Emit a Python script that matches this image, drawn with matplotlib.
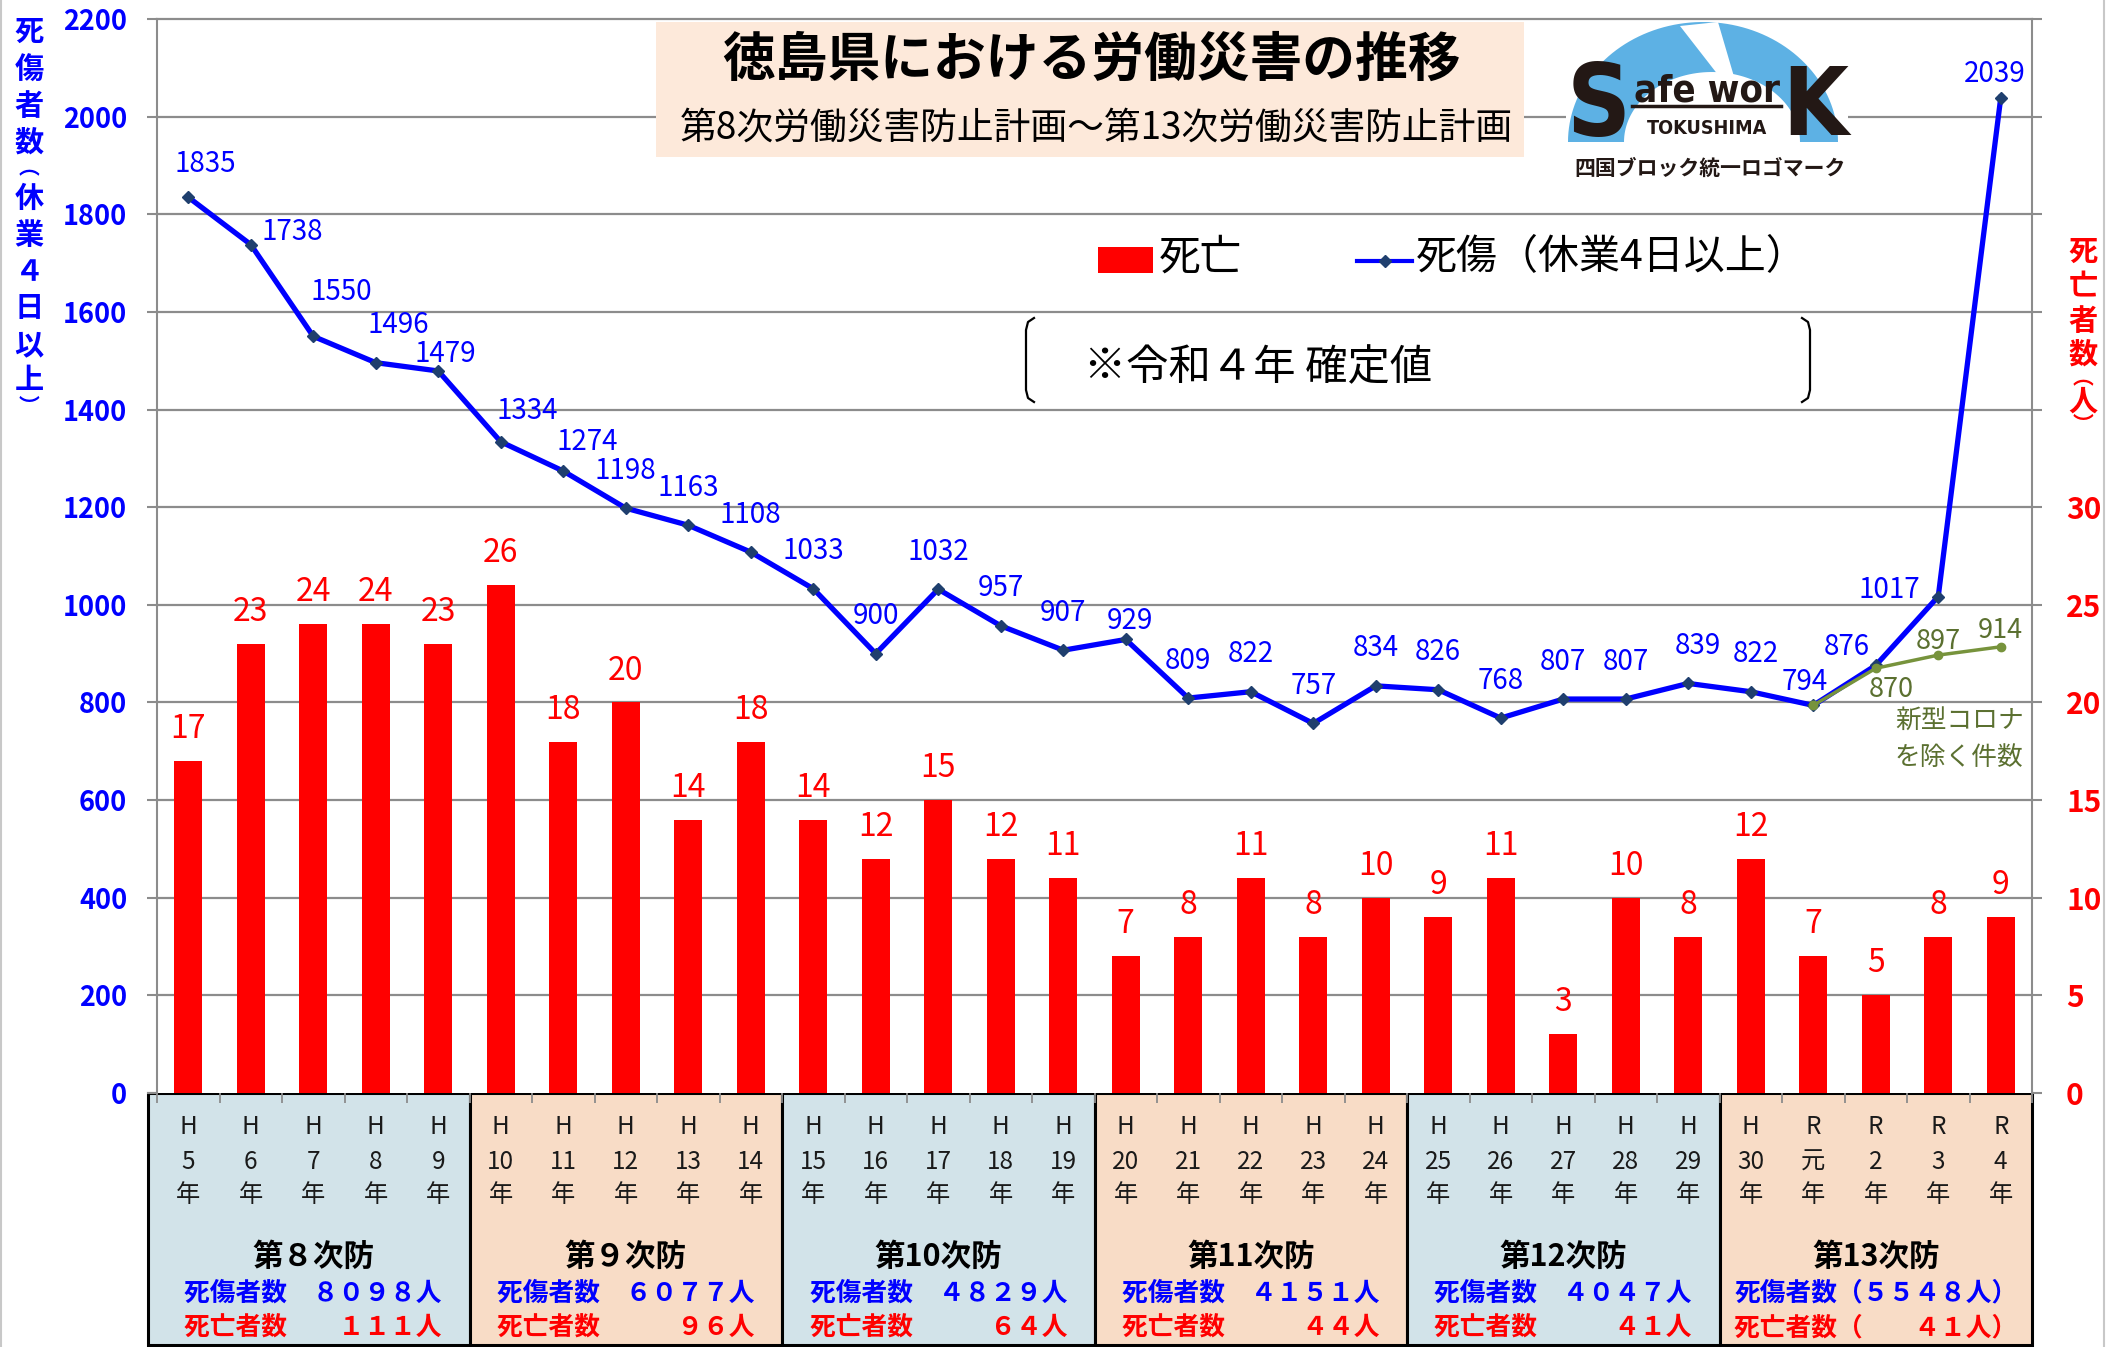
import numpy as np
import matplotlib
matplotlib.use('Agg')
import matplotlib.pyplot as plt
from matplotlib.patches import Rectangle, Polygon
from matplotlib.lines import Line2D
from matplotlib import font_manager
from matplotlib.font_manager import FontProperties

plt.rcParams['font.family'] = ['Noto Sans CJK JP', 'DejaVu Sans']

# ---- data ----
era = ['H'] * 26 + ['R'] * 4
year_no = [str(n) for n in range(5, 31)] + ['元', '2', '3', '4']
deaths = [17, 23, 24, 24, 23, 26, 18, 20, 14, 18, 14, 12, 15, 12, 11,
          7, 8, 11, 8, 10, 9, 11, 3, 10, 8, 12, 7, 5, 8, 9]
casualties = [1835, 1738, 1550, 1496, 1479, 1334, 1274, 1198, 1163, 1108,
              1033, 900, 1032, 957, 907, 929, 809, 822, 757, 834,
              826, 768, 807, 807, 839, 822, 794, 876, 1017, 2039]
covid_idx = [26, 27, 28, 29]
covid_excl = [794, 870, 897, 914]
plans = ['第８次防', '第９次防', '第10次防', '第11次防', '第12次防', '第13次防']
plan_casualties = ['死傷者数　８０９８人', '死傷者数　６０７７人', '死傷者数　４８２９人',
                   '死傷者数　４１５１人', '死傷者数　４０４７人', '死傷者数（５５４８人）']
plan_deaths = ['死亡者数　　１１１人', '死亡者数　　　９６人', '死亡者数　　　６４人',
               '死亡者数　　　４４人', '死亡者数　　　４１人', '死亡者数（　　４１人）']

# label offsets (points) for the casualty labels, as placed in the original
lab_off = ([(12, 24), (30, 9), (20, 32), (16, 27), (5, 12), (19, 22), (17, 21)]
           + [(0, 27)] * 8 + [(3, 13)] + [(0, 27)] * 8
           + [(7, 27), (4, 27), (-6, 17), (-21, 13), (-35, 5), (-4, 17)])
covid_off = [None, (11, -15), (0, 10), (0, 12)]

BLUE = '#0000FF'
RED = '#FF0000'
GRID = '#8C8C8C'
OLIVE = '#77933C'
OLIVE_TXT = '#5B7030'
MARK = '#1F3F6E'
INK = '#231815'

W, H = 2107, 1347
fig = plt.figure(figsize=(W / 100, H / 100), dpi=100)
fig.patch.set_facecolor('white')


def fx(px):
    return px / W


def fy(py):
    return 1 - py / H


L, R, T, B = 157, 2032, 19, 1093
TB = 1345
ax = fig.add_axes([fx(L), fy(B), fx(R) - fx(L), fy(T) - fy(B)])
ax2 = ax.twinx()
axt = fig.add_axes([fx(L), fy(TB), fx(R) - fx(L), fy(B) - fy(TB)])
axt.set_zorder(0)
ax.set_zorder(1)
ax2.set_zorder(2)

x = np.arange(len(deaths))

# bars (right axis)
ax.set_xlim(-0.5, 29.5)
ax.set_ylim(0, 55)
for v in range(5, 56, 5):
    ax.axhline(v, color=GRID, lw=1.6, zorder=0, clip_on=False)
ax.bar(x, deaths, width=0.445, color=RED, zorder=2)
for xi, v in zip(x, deaths):
    ax.annotate(str(v), (xi, v), xytext=(0, 23), textcoords='offset points',
                ha='center', va='center', color=RED, fontsize=23)
ax.set_yticks(range(0, 56, 5))
ax.set_yticklabels([str(v) if v <= 30 else '' for v in range(0, 56, 5)],
                   fontweight='bold')
ax.yaxis.tick_right()
ax.tick_params(axis='y', colors=GRID, length=7.5, width=1.5,
               labelcolor=RED, labelsize=21.5, pad=17)
ax.set_xticks(np.arange(-0.5, 30, 1))
ax.tick_params(axis='x', length=7, width=1.3, colors=GRID, labelbottom=False)
for s in ['top', 'bottom']:
    ax.spines[s].set_visible(False)
for s in ['left', 'right']:
    ax.spines[s].set_color(GRID)
    ax.spines[s].set_linewidth(1.5)

# lines (left axis)
ax2.set_ylim(0, 2200)
ax2.plot(x, casualties, color=BLUE, lw=3.8, marker='D', ms=6.5,
         mfc=MARK, mec=MARK, zorder=3)
ax2.plot(covid_idx, covid_excl, color=OLIVE, lw=2.5, marker='o', ms=6,
         mfc=OLIVE, mec=OLIVE, zorder=4)
for xi, v, off in zip(x, casualties, lab_off):
    ax2.annotate(str(v), (xi, v), xytext=off, textcoords='offset points',
                 ha='center', va='center', color=BLUE, fontsize=20)
for xi, v, off in zip(covid_idx, covid_excl, covid_off):
    if off is None:
        continue
    ax2.annotate(str(v), (xi, v), xytext=off, textcoords='offset points',
                 ha='center', va='center', color=OLIVE_TXT, fontsize=19.5)
ax2.set_yticks(range(0, 2201, 200))
ax2.set_yticklabels([str(v) for v in range(0, 2201, 200)], fontweight='bold')
ax2.yaxis.tick_left()
ax2.tick_params(axis='y', colors=GRID, length=7.5, width=1.5,
                labelcolor=BLUE, labelsize=19.5, pad=14)
for s in ax2.spines.values():
    s.set_visible(False)

fig.text(fx(1960), fy(722), '新型コロナ', color=OLIVE_TXT, fontsize=18.5,
         ha='center', va='center')
fig.text(fx(1959), fy(758), 'を除く件数', color=OLIVE_TXT, fontsize=18.5,
         ha='center', va='center')

# vertical axis titles, one character per line
left_chars = ['死', '傷', '者', '数', '︵', '休', '業', '４', '日', '以', '上', '︶']
left_y = [32, 70, 106, 143, 168, 198, 235, 272, 308, 345, 380, 407]
for ch, yy in zip(left_chars, left_y):
    fs = 15 if ch in '︵︶' else 21
    fig.text(fx(29), fy(yy), ch, color=BLUE, fontsize=fs, fontweight='bold',
             ha='center', va='center')
right_chars = ['死', '亡', '者', '数', '︵', '人', '︶']
right_y = [252, 286, 321, 355, 378, 402, 424]
for ch, yy in zip(right_chars, right_y):
    fs = 15 if ch in '︵︶' else 21
    fig.text(fx(2083), fy(yy), ch, color=RED, fontsize=fs, fontweight='bold',
             ha='center', va='center')

# ---- table under the chart ----
axt.set_xlim(-0.5, 29.5)
axt.set_ylim(1, 0)
axt.axis('off')
cell_cols = ['#D2E3E9', '#F8DCC6']
for g in range(6):
    x0 = -0.5 + 5 * g if g > 0 else -0.64
    x1 = 4.5 + 5 * g
    axt.add_patch(Rectangle((x0, 0), x1 - x0, 1, facecolor=cell_cols[g % 2],
                            edgecolor='black', lw=2.2, clip_on=False))
    axt.text(2 + 5 * g, 0.651, plans[g], ha='center', va='center',
             fontsize=22, fontweight='bold', color='black')
    axt.text(2 + 5 * g, 0.794, plan_casualties[g], ha='center', va='center',
             fontsize=18.5, fontweight='bold', color=BLUE)
    axt.text(2 + 5 * g, 0.933, plan_deaths[g], ha='center', va='center',
             fontsize=18.5, fontweight='bold', color=RED)
for xi, e, n in zip(x, era, year_no):
    axt.text(xi, 0.135, e, ha='center', va='center', fontsize=17.5, color='#1A1A1A')
    axt.text(xi, 0.274, n, ha='center', va='center', fontsize=17.5, color='#1A1A1A')
    axt.text(xi, 0.405, '年', ha='center', va='center', fontsize=17.5, color='#1A1A1A')

# ---- title box ----
fig.patches.append(Rectangle((fx(656), fy(157)), fx(1524) - fx(656), fy(22) - fy(157),
                             transform=fig.transFigure, facecolor='#FDE9DA',
                             edgecolor='none', zorder=5))
fig.text(fx(1091), fy(60), '徳島県における労働災害の推移', fontsize=38,
         fontweight='bold', ha='center', va='center', zorder=6)
fig.text(fx(1096), fy(128), '第8次労働災害防止計画～第13次労働災害防止計画',
         fontsize=26.5, ha='center', va='center', zorder=6)

# ---- legend ----
fig.patches.append(Rectangle((fx(1098), fy(273)), fx(1153) - fx(1098), fy(247) - fy(273),
                             transform=fig.transFigure, facecolor=RED,
                             edgecolor='none', zorder=5))
fig.text(fx(1159), fy(258), '死亡', fontsize=30, ha='left', va='center', zorder=6)
fig.add_artist(Line2D([fx(1357), fx(1412)], [fy(261), fy(261)], color=BLUE, lw=3,
                      transform=fig.transFigure, zorder=6))
fig.add_artist(Line2D([fx(1384.5)], [fy(261)], marker='D', ms=6.5, mfc=MARK, mec=MARK,
                      transform=fig.transFigure, zorder=7))
fig.text(fx(1416), fy(258), '死傷（休業4日以上）', fontsize=29.5, ha='left',
         va='center', zorder=6)

# ---- note with bracket pair ----
fig.text(fx(1258), fy(368), '※令和４年 確定値', fontsize=30.5, ha='center',
         va='center', zorder=6)
bx = [1034, 1028, 1026, 1026, 1028, 1034]
by = [318, 322, 330, 390, 398, 402]
fig.add_artist(Line2D([fx(v) for v in bx], [fy(v) for v in by], color='black',
                      lw=1.6, transform=fig.transFigure, zorder=6))
fig.add_artist(Line2D([fx(2836 - v) for v in bx], [fy(v) for v in by], color='black',
                      lw=1.6, transform=fig.transFigure, zorder=6))

# ---- logo ----
# look for a narrow / condensed bold sans face, otherwise use DejaVu Sans bold
cond = [f for f in font_manager.fontManager.ttflist
        if ('Narrow' in f.name or 'Condensed' in f.name
            or f.stretch in ('condensed', 'extra-condensed', 'semi-condensed'))
        and f.weight in (700, 'bold') and 'Serif' not in f.name and 'Mono' not in f.name]
if cond:
    logo_fp = FontProperties(fname=cond[0].fname)
else:
    logo_fp = FontProperties(family='DejaVu Sans', weight='bold')

fig.patches.append(Rectangle((fx(1566), fy(180)), fx(1848) - fx(1566), fy(22) - fy(180),
                             transform=fig.transFigure, facecolor='white',
                             edgecolor='none', zorder=5))
t = np.linspace(0, np.pi, 80)
dome = np.column_stack([fx(1703 + 135 * np.cos(t)), fy(142 - 120 * np.sin(t))])
fig.patches.append(Polygon(dome, closed=True, transform=fig.transFigure,
                           facecolor='#5DB1E4', edgecolor='none', zorder=5.1))
inner = np.column_stack([fx(1712 + 88 * np.cos(t)), fy(142 - 70 * np.sin(t))])
fig.patches.append(Polygon(inner, closed=True, transform=fig.transFigure,
                           facecolor='white', edgecolor='none', zorder=5.15))
stripe = [(fx(1680), fy(26)), (fx(1718), fy(22)), (fx(1735), fy(80)), (fx(1722), fy(80))]
fig.patches.append(Polygon(stripe, closed=True, transform=fig.transFigure,
                           facecolor='white', edgecolor='none', zorder=5.2))
fig.add_artist(Line2D([fx(1632), fx(1781)], [fy(106), fy(106)], color=INK, lw=2.5,
                      transform=fig.transFigure, zorder=5.3))

renderer = fig.canvas.get_renderer()


def logo_text(s, cx, base, w_px, cap_px):
    txt = fig.text(fx(cx), fy(base), s, fontproperties=logo_fp.copy(), color=INK,
                   ha='center', va='baseline', zorder=5.4)
    txt.set_fontsize(100)
    bw = txt.get_window_extent(renderer).width
    txt.set_fontsize(min(100 * w_px / bw, cap_px / 0.73 * 0.72))
    return txt


logo_text('S', 1599, 136, 64, 100)
logo_text('afe wor', 1707, 102, 146, 30)
logo_text('K', 1815, 135, 66, 92)
logo_text('TOKUSHIMA', 1707, 134, 120, 15)
fig.text(fx(1710), fy(168), '四国ブロック統一ロゴマーク', fontsize=15, fontweight='bold',
         color=INK, ha='center', va='center', zorder=5.4)

# thin frame lines at figure sides
for px in (1, 2104):
    fig.add_artist(Line2D([fx(px), fx(px)], [0, 1], color='#C8C8C8', lw=1.5,
                          transform=fig.transFigure))

fig.savefig('out.png', dpi=100)
